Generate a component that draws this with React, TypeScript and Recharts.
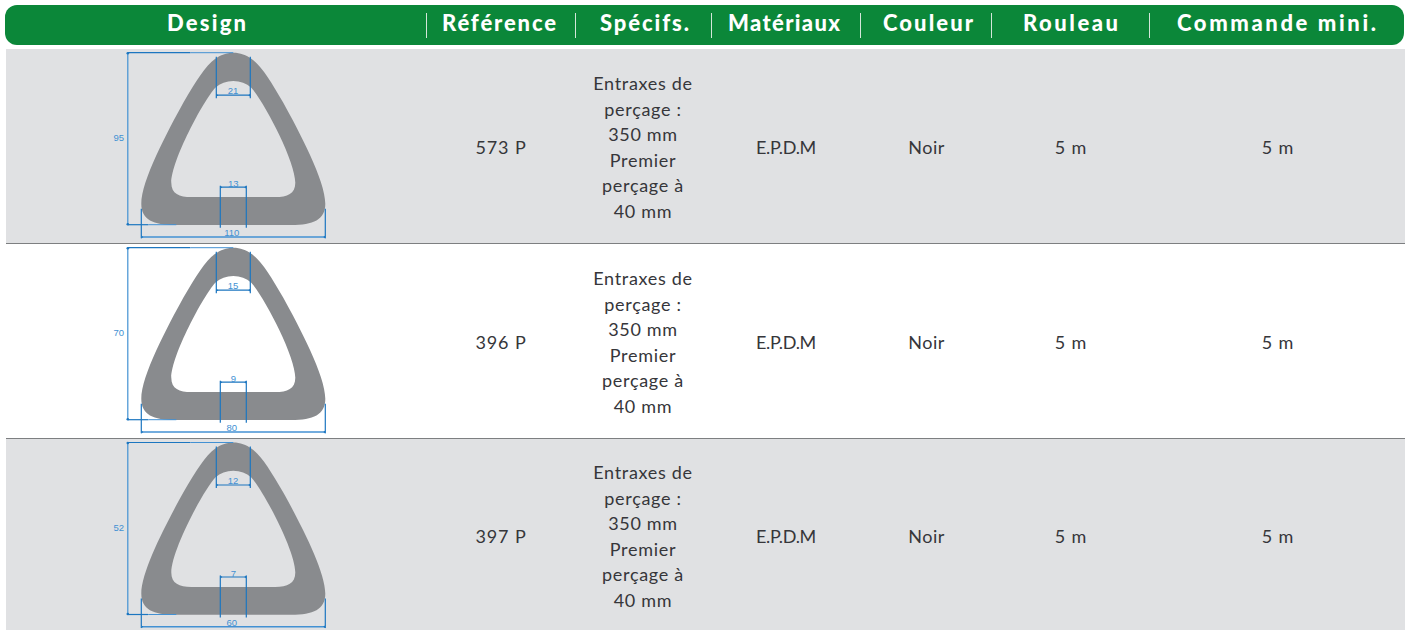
import { ComposedChart, Scatter, XAxis, YAxis, ReferenceArea, ReferenceLine, Rectangle } from "recharts";

// table content
const headers = ["Design", "Référence", "Spécifs.", "Matériaux", "Couleur", "Rouleau", "Commande mini."];
const references = ["573 P", "396 P", "397 P"];
const specLines = ["Entraxes de", "perçage :", "350 mm", "Premier", "perçage à", "40 mm"];
const materials = ["E.P.D.M", "E.P.D.M", "E.P.D.M"];
const colours = ["Noir", "Noir", "Noir"];
const rolls = ["5 m", "5 m", "5 m"];
const minOrders = ["5 m", "5 m", "5 m"];
const heights = [95, 70, 52];
const widths = [110, 80, 60];
const topWidths = [21, 15, 12];
const bottomWidths = [13, 9, 7];

// layout, in page pixels (the axes map 1:1)
const W = 1411;
const H = 630;
const HEADER_X = [206.5, 499, 644.5, 784, 928, 1070.5, 1276.5];
const HEADER_WIDTH = [79, 114, 89, 112, 90, 95, 199];
const SEPARATORS = [426, 575, 711, 860, 991, 1149];
const COLUMN_X = [501, 643, 786, 926.5, 1071, 1278];
const COLUMN_SPACING = [0.9, 0.7, -0.3, 0.5, 0.9, 0.9];
const ROW_Y = [148, 343, 537];
const ROW_TOP = [49, 244, 439];
const ROW_BOTTOM = [243, 438, 630];
const APEX_X = 233.3;
const APEX_Y = [52.7, 247.7, 442.5];
const GREEN = "#0b8739";
const GREY = "#e0e1e3";
const TEXT = "#36363a";
const FONT = "Lato, sans-serif";
const BLUE = "#1c76c0";
const BLUE_LIGHT = "#4391d3";

const tableData = references.flatMap((ref, i) =>
  [ref, specLines, materials[i], colours[i], rolls[i], minOrders[i]].map((value, col) => ({
    x: COLUMN_X[col],
    y: ROW_Y[i],
    col,
    value,
  }))
);

const profileData = references.map((_, i) => ({
  x: APEX_X,
  y: APEX_Y[i],
  h: heights[i],
  w: widths[i],
  top: topWidths[i],
  bottom: bottomWidths[i],
}));

const OUTER =
  "M0,0 C7,0 13,2.5 18,6 C28,13 37,28 50,50 C66,79 92,128 92,151 C92,167 80,172.3 58,172.3 " +
  "L-58,172.3 C-80,172.3 -92,167 -92,151 C-92,128 -66,79 -50,50 C-37,28 -28,13 -18,6 C-13,2.5 -7,0 0,0 Z";
const INNER =
  "M0,28.2 C7,28.2 13,30.5 18,35 C30,48 62,108 62,130 C62,141 54,144.4 42,144.4 " +
  "L-42,144.4 C-54,144.4 -62,141 -62,130 C-62,108 -30,48 -18,35 C-13,30.5 -7,28.2 0,28.2 Z";

const dimText = (x: number, y: number, t: number) => (
  <text x={x} y={y} textAnchor="middle" dominantBaseline="central" fontSize={9.5} fontFamily="Liberation Sans, sans-serif" fill={BLUE_LIGHT}>
    {t}
  </text>
);

// small end marks on a horizontal dimension line
const ends = (x1: number, x2: number, y: number) => (
  <path d={`M${x1},${y - 1.5} l2,1.5 l-2,1.5 Z M${x2},${y - 1.5} l-2,1.5 l2,1.5 Z`} fill={BLUE} />
);

function ProfileShape(props: any) {
  const { cx, cy, payload } = props;
  return (
    <g transform={`translate(${cx},${cy})`}>
      <path d={OUTER + " " + INNER} fill="#898b8e" fillRule="evenodd" />
      {/* height dimension */}
      <path d="M-105.5,0 V171.5" stroke={BLUE_LIGHT} strokeWidth={1.2} fill="none" />
      <path d="M-105.5,0 H-43" stroke={BLUE} strokeWidth={1.2} fill="none" />
      <path d="M-43,0 H0" stroke={BLUE_LIGHT} strokeWidth={1} fill="none" />
      <path d="M-105.5,172 H-85" stroke={BLUE} strokeWidth={1.2} fill="none" />
      <path d="M-85,172 H-57" stroke={BLUE_LIGHT} strokeWidth={1} fill="none" />
      <circle cx={-105.5} cy={0.5} r={1.3} fill={BLUE} />
      <circle cx={-105.5} cy={171.5} r={1.3} fill={BLUE} />
      {dimText(-114.5, 85, payload.h)}
      {/* top width */}
      <path d="M-17,4 V45.5 M17,4 V45.5 M-17,42.5 H17" stroke={BLUE} strokeWidth={1.2} fill="none" />
      {ends(-17, 17, 42.5)}
      {dimText(-0.3, 38, payload.top)}
      {/* bottom gap */}
      <path d="M-13,133 V175 M13,133 V175 M-13,134.5 H13" stroke={BLUE} strokeWidth={1.2} fill="none" />
      {ends(-13, 13, 134.5)}
      {dimText(0, 130.5, payload.bottom)}
      {/* overall width */}
      <path d="M-92,156 V185.5 M92,156 V185.5" stroke={BLUE} strokeWidth={1.2} fill="none" />
      <path d="M-92,184.3 H92" stroke={BLUE_LIGHT} strokeWidth={1.4} fill="none" />
      {ends(-92, 92, 184.3)}
      {dimText(-1.5, 180, payload.w)}
    </g>
  );
}

function CellShape(props: any) {
  const { cx, cy, payload } = props;
  const lines: string[] = Array.isArray(payload.value) ? payload.value : [payload.value];
  const lineHeight = 25.6;
  return (
    <text x={cx} textAnchor="middle" fontFamily={FONT} fontSize={18} letterSpacing={COLUMN_SPACING[payload.col]} fill={TEXT}>
      {lines.map((l, i) => (
        <tspan key={i} x={cx} y={cy + 6 + (i - (lines.length - 1) / 2) * lineHeight}>
          {l}
        </tspan>
      ))}
    </text>
  );
}

function HeaderLabel(props: any) {
  const { x, index } = props;
  return (
    <text
      x={x}
      y={31}
      textAnchor="middle"
      fontFamily={FONT}
      fontWeight={900}
      fontSize={22}
      textLength={HEADER_WIDTH[index]}
      lengthAdjust="spacing"
      fill="#ffffff"
    >
      {headers[index]}
    </text>
  );
}

export default function App() {
  return (
    <div style={{ position: "absolute", left: 0, top: 0 }}>
      <ComposedChart width={W} height={H} margin={{ top: 0, right: 0, bottom: 0, left: 0 }} data={tableData}>
        <XAxis xAxisId="x" type="number" dataKey="x" domain={[0, W]} hide height={0} />
        <YAxis yAxisId="y" type="number" dataKey="y" domain={[0, H]} reversed hide width={0} />

        {/* header band and row bands */}
        <ReferenceArea
          xAxisId="x"
          yAxisId="y"
          x1={5}
          x2={1404}
          y1={5}
          y2={45}
          fill={GREEN}
          fillOpacity={1}
          stroke="none"
          shape={(p: any) => <Rectangle {...p} radius={12} />}
        />
        {ROW_TOP.map((top, i) => (
          <ReferenceArea
            key={i}
            xAxisId="x"
            yAxisId="y"
            x1={6}
            x2={1405}
            y1={top}
            y2={ROW_BOTTOM[i]}
            fill={i % 2 === 0 ? GREY : "#ffffff"}
            fillOpacity={1}
            stroke="none"
          />
        ))}
        {ROW_BOTTOM.slice(0, 2).map((y) => (
          <ReferenceLine
            key={y}
            xAxisId="x"
            yAxisId="y"
            segment={[{ x: 6, y: y + 0.5 }, { x: 1405, y: y + 0.5 }]}
            stroke="#7d7f81"
            strokeWidth={1}
          />
        ))}
        {SEPARATORS.map((x) => (
          <ReferenceLine
            key={x}
            xAxisId="x"
            yAxisId="y"
            segment={[{ x: x + 0.5, y: 13 }, { x: x + 0.5, y: 38 }]}
            stroke="#d3e6d9"
            strokeWidth={1}
          />
        ))}

        <Scatter
          xAxisId="x"
          yAxisId="y"
          name="headers"
          data={HEADER_X.map((x, i) => ({ x, y: 0, i }))}
          isAnimationActive={false}
          shape={(p: any) => <HeaderLabel x={p.cx} index={p.payload.i} />}
        />
        <Scatter xAxisId="x" yAxisId="y" name="profiles" data={profileData} isAnimationActive={false} shape={ProfileShape} />
        <Scatter xAxisId="x" yAxisId="y" name="cells" data={tableData} isAnimationActive={false} shape={CellShape} />
      </ComposedChart>
    </div>
  );
}
